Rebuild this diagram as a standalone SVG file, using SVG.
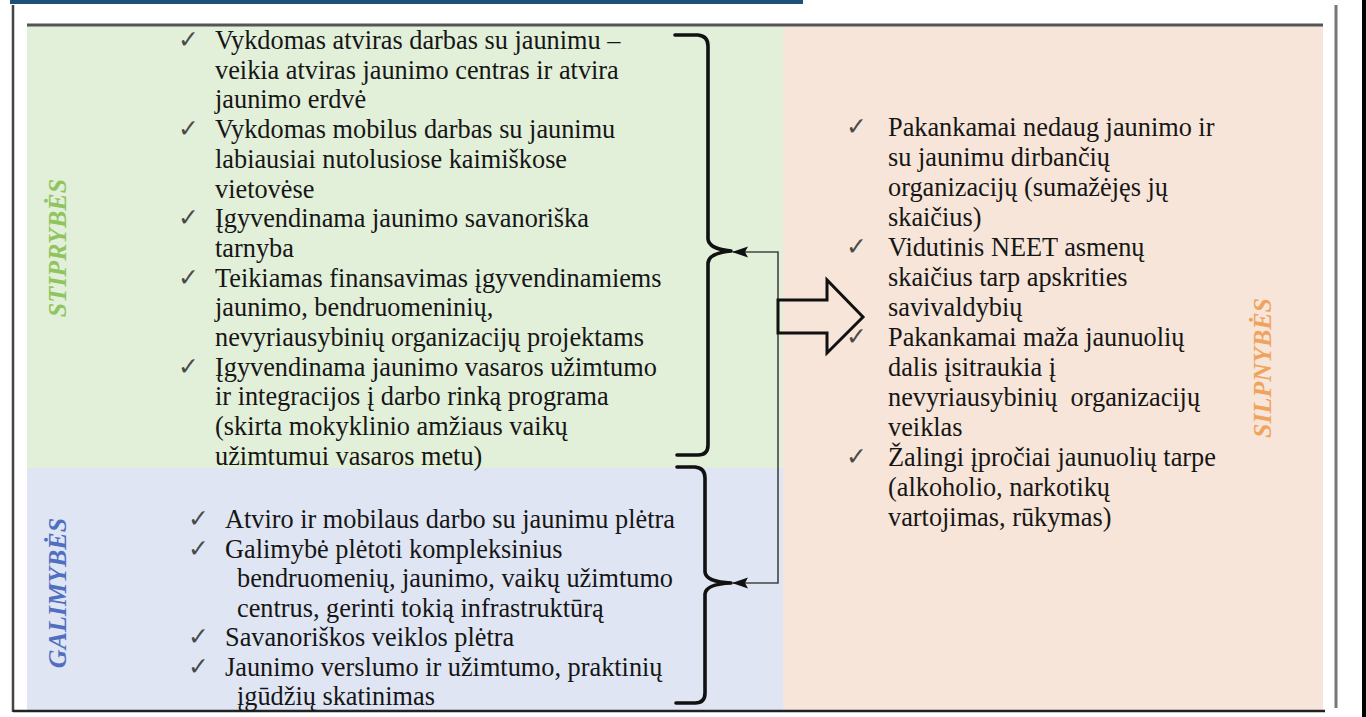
<svg xmlns="http://www.w3.org/2000/svg" width="1366" height="717" viewBox="0 0 1366 717">
<style>
.t{font-family:"Liberation Serif","Times New Roman",serif;font-size:26.3px;fill:#161616}
.ck{font-family:"DejaVu Sans",sans-serif;font-size:25px;fill:#4a4a4a}
.lbl{font-family:"Liberation Serif","Times New Roman",serif;font-size:26px;font-weight:bold;font-style:italic;text-anchor:middle}
.brace{fill:none;stroke:#111;stroke-width:3.6;stroke-linecap:round;stroke-linejoin:round}
.conn{fill:none;stroke:#444;stroke-width:1.6}
</style>
<defs>
<marker id="ah" markerUnits="userSpaceOnUse" viewBox="0 0 16 12" refX="15" refY="6" markerWidth="16" markerHeight="12" orient="auto-start-reverse">
<path d="M0,0.5 L16,6 L0,11.5 L3,6 z" fill="#111"/>
</marker>
</defs>
<rect width="1366" height="717" fill="#ffffff"/>
<rect x="10" y="0" width="793" height="4" fill="#1f4e79"/>
<rect x="1362" y="0" width="4" height="717" fill="#000"/>

<g id="backgrounds">
<rect x="27" y="26" width="756" height="442" fill="#e2efd9"/>
<rect x="27" y="468" width="756" height="242" fill="#dfe5f2"/>
<rect x="783" y="26" width="540" height="684" fill="#f6e5d8"/>
</g>

<g id="frame">
<line x1="13" y1="5" x2="13" y2="712" stroke="#444" stroke-width="2.5"/>
<line x1="27" y1="25" x2="1323" y2="25" stroke="#555" stroke-width="3"/>
<line x1="1336" y1="5" x2="1336" y2="708" stroke="#777" stroke-width="3"/>
<line x1="13" y1="711" x2="1325" y2="711" stroke="#222" stroke-width="2.5"/>
</g>

<g id="stiprybes">
<text class="lbl" fill="#8fc45f" transform="translate(66,248) rotate(-90)">STIPRYBĖS</text>
<text class="ck" x="178" y="48">✓</text>
<text class="t" x="215" y="49">Vykdomas atviras darbas su jaunimu –</text>
<text class="t" x="215" y="78.7">veikia atviras jaunimo centras ir atvira</text>
<text class="t" x="215" y="108.4">jaunimo erdvė</text>
<text class="ck" x="178" y="137">✓</text>
<text class="t" x="215" y="138.1">Vykdomas mobilus darbas su jaunimu</text>
<text class="t" x="215" y="167.8">labiausiai nutolusiose kaimiškose</text>
<text class="t" x="215" y="197.5">vietovėse</text>
<text class="ck" x="178" y="226">✓</text>
<text class="t" x="215" y="227.2">Įgyvendinama jaunimo savanoriška</text>
<text class="t" x="215" y="256.9">tarnyba</text>
<text class="ck" x="178" y="285.5">✓</text>
<text class="t" x="215" y="286.6">Teikiamas finansavimas įgyvendinamiems</text>
<text class="t" x="215" y="316.3">jaunimo, bendruomeninių,</text>
<text class="t" x="215" y="346">nevyriausybinių organizacijų projektams</text>
<text class="ck" x="178" y="374.5">✓</text>
<text class="t" x="215" y="375.7">Įgyvendinama jaunimo vasaros užimtumo</text>
<text class="t" x="215" y="405.4">ir integracijos į darbo rinką programa</text>
<text class="t" x="215" y="435.1">(skirta mokyklinio amžiaus vaikų</text>
<text class="t" x="215" y="464.8">užimtumui vasaros metu)</text>
</g>

<g id="galimybes">
<text class="lbl" fill="#4f6fc0" transform="translate(66,593) rotate(-90)">GALIMYBĖS</text>
<text class="ck" x="188" y="527">✓</text>
<text class="t" x="225" y="528">Atviro ir mobilaus darbo su jaunimu plėtra</text>
<text class="ck" x="188" y="556.5">✓</text>
<text class="t" x="225" y="557.5">Galimybė plėtoti kompleksinius</text>
<text class="t" x="237" y="587">bendruomenių, jaunimo, vaikų užimtumo</text>
<text class="t" x="237" y="616.5">centrus, gerinti tokią infrastruktūrą</text>
<text class="ck" x="188" y="645">✓</text>
<text class="t" x="225" y="646">Savanoriškos veiklos plėtra</text>
<text class="ck" x="188" y="674.5">✓</text>
<text class="t" x="225" y="675.5">Jaunimo verslumo ir užimtumo, praktinių</text>
<text class="t" x="237" y="705">įgūdžių skatinimas</text>
</g>

<g id="silpnybes">
<text class="lbl" fill="#f0a35e" transform="translate(1271,368) rotate(-90)">SILPNYBĖS</text>
<text class="ck" x="846" y="135">✓</text>
<text class="t" x="888" y="136">Pakankamai nedaug jaunimo ir</text>
<text class="t" x="888" y="166">su jaunimu dirbančių</text>
<text class="t" x="888" y="196">organizacijų (sumažėjęs jų</text>
<text class="t" x="888" y="226">skaičius)</text>
<text class="ck" x="846" y="255">✓</text>
<text class="t" x="888" y="256">Vidutinis NEET asmenų</text>
<text class="t" x="888" y="286">skaičius tarp apskrities</text>
<text class="t" x="888" y="316">savivaldybių</text>
<text class="ck" x="846" y="345">✓</text>
<text class="t" x="888" y="346">Pakankamai maža jaunuolių</text>
<text class="t" x="888" y="376">dalis įsitraukia į</text>
<text class="t" x="888" y="406" style="white-space:pre">nevyriausybinių  organizacijų</text>
<text class="t" x="888" y="436">veiklas</text>
<text class="ck" x="846" y="465">✓</text>
<text class="t" x="888" y="466">Žalingi įpročiai jaunuolių tarpe</text>
<text class="t" x="888" y="496">(alkoholio, narkotikų</text>
<text class="t" x="888" y="526">vartojimas, rūkymas)</text>
</g>

<g id="connectors">
<path class="brace" d="M675,35 L698,35 Q708,36 708,46 L708,239 Q709,249 731,251 Q709,253 708,263 L708,445 Q708,455 698,455 L677,455"/>
<path class="brace" d="M677,467 L695,467 Q705,468 705,478 L705,572 Q706,582 731,583 Q706,584 705,594 L705,693 Q705,703 695,703 L676,703"/>
<path class="conn" d="M733,252 H778 V583 H733" marker-start="url(#ah)" marker-end="url(#ah)"/>
<path d="M778,300 H827 V280 L863,317 L827,353 V333 H778 Z" fill="none" stroke="#111" stroke-width="3" stroke-linejoin="miter"/>
</g>
</svg>
